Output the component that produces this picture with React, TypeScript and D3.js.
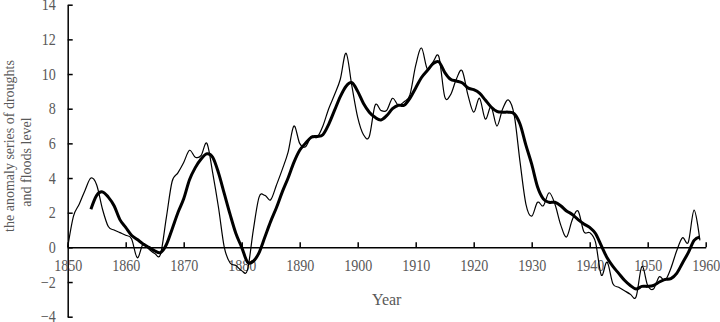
import { useRef, useEffect } from "react";
import * as d3 from "d3";

// annual anomaly series (thin line), 1850-1959
const annualYears = d3.range(1850, 1960);
const annualValues = [
  0, 1.8, 2.5, 3.3, 4.0, 3.6, 2.2, 1.2, 1.0, 0.85,
  0.7, 0.5, -0.6, 0.2, -0.1, -0.35, -0.4, 1.7, 3.8, 4.3,
  4.9, 5.6, 5.2, 5.3, 6.0, 4.3, 2.3, 0.0, -0.9, -1.05,
  -1.35, -1.3, 1.0, 2.9, 3.0, 2.75, 3.6, 4.5, 5.5, 7.0,
  6.0, 5.8, 6.4, 6.35, 7.0, 8.0, 8.8, 9.7, 11.2, 9.3,
  7.5, 6.5, 6.4, 8.2, 7.9, 7.9, 8.6, 8.2, 8.4, 8.8,
  10.5, 11.5, 10.3, 10.7, 11.0, 8.7, 8.8, 9.7, 10.2, 8.8,
  7.8, 8.6, 7.4, 8.1, 7.0, 8.0, 8.5, 7.6, 4.9, 2.5,
  1.8, 2.6, 2.4, 3.15, 2.5, 1.3, 0.6, 1.6, 2.1, 0.9,
  0.85, 0.3, -1.6, -0.85, -2.1, -2.3, -2.5, -2.7, -2.85, -1.1,
  -2.2, -2.4, -1.7, -1.9, -1.2, -0.2, 0.55, 0.3, 2.15, 0.4,
];

// smoothed series (thick line), 1854-1959
const smoothYears = d3.range(1854, 1960);
const smoothValues = [
  2.2, 3.0, 3.2, 2.9, 2.4, 1.6, 1.15, 0.7, 0.45, 0.2,
  0.0, -0.2, -0.3, 0.15, 1.05, 2.0, 2.8, 3.9, 4.6, 5.1,
  5.4, 5.2, 4.3, 3.1, 1.9, 0.8, 0.0, -0.85, -0.8, -0.3,
  0.6, 1.5, 2.3, 3.2, 4.0, 4.9, 5.6, 6.0, 6.35, 6.4,
  6.5, 7.1, 7.9, 8.7, 9.3, 9.5, 9.0, 8.3, 7.8, 7.5,
  7.35, 7.6, 8.0, 8.2, 8.2, 8.6, 9.2, 9.8, 10.2, 10.6,
  10.7, 10.1, 9.7, 9.6, 9.5, 9.2, 9.1, 8.9, 8.5, 8.1,
  7.85, 7.8, 7.8, 7.7, 7.1, 5.9, 4.8, 3.5, 2.8, 2.6,
  2.6, 2.4, 2.1, 1.9, 1.6, 1.35, 1.15, 0.8, 0.1, -0.6,
  -1.1, -1.5, -1.9, -2.2, -2.4, -2.25, -2.25, -2.2, -2.0, -1.85,
  -1.8, -1.5, -0.9, -0.3, 0.4, 0.6,
];

const xTicks = [1850, 1860, 1870, 1880, 1890, 1900, 1910, 1920, 1930, 1940, 1950, 1960];
const yTicks = [-4, -2, 0, 2, 4, 6, 8, 10, 12, 14];

function App() {
  const chartRef = useRef<SVGSVGElement | null>(null);

  useEffect(() => {
    document.body.style.margin = "0";
    const svg = d3.select(chartRef.current);
    svg.selectAll("*").remove();

    const width = 720;
    const height = 322;
    const font = "'Liberation Serif', 'Times New Roman', serif";
    const textColor = "#595959";

    const x = d3.scaleLinear().domain([1850, 1960]).range([67.7, 705.7]);
    const y = d3.scaleLinear().domain([-4, 14]).range([316.7, 4.7]);

    svg.attr("width", width).attr("height", height);

    // y axis, ticks pointing inward
    const yAxis = d3
      .axisLeft(y)
      .tickValues(yTicks)
      .tickSizeInner(-5)
      .tickSizeOuter(0)
      .tickPadding(13.5);
    const gy = svg.append("g").attr("transform", `translate(${x(1850)},0)`).call(yAxis);

    // x axis sits on zero, ticks pointing up
    const xAxis = d3
      .axisBottom(x)
      .tickValues(xTicks)
      .tickFormat(d3.format("d"))
      .tickSizeInner(-5)
      .tickSizeOuter(0)
      .tickPadding(12);
    const gx = svg.append("g").attr("transform", `translate(0,${y(0)})`).call(xAxis);

    [gx, gy].forEach((g) => {
      g.select(".domain").attr("stroke", "#000").attr("stroke-width", 1.5);
      g.selectAll(".tick line").attr("stroke", "#000").attr("stroke-width", 1.5);
      g.selectAll(".tick text")
        .attr("fill", textColor)
        .attr("transform", "scale(0.88,1)")
        .style("font-family", font)
        .style("font-size", "16px");
    });

    const line = d3
      .line<number>()
      .curve(d3.curveCardinal.tension(0));

    // thin annual line
    svg
      .append("path")
      .attr("fill", "none")
      .attr("stroke", "#000")
      .attr("stroke-width", 1.2)
      .attr(
        "d",
        line.x((d, i) => x(annualYears[i])).y((d) => y(d))(annualValues)
      );

    // thick smoothed line
    svg
      .append("path")
      .attr("fill", "none")
      .attr("stroke", "#000")
      .attr("stroke-width", 3)
      .attr("stroke-linejoin", "round")
      .attr(
        "d",
        line.x((d, i) => x(smoothYears[i])).y((d) => y(d))(smoothValues)
      );

    // axis titles
    svg
      .append("text")
      .attr("x", (x(1850) + x(1960)) / 2)
      .attr("y", 305)
      .attr("text-anchor", "middle")
      .attr("fill", textColor)
      .style("font-family", font)
      .style("font-size", "16px")
      .text("Year");

    const yTitle = svg
      .append("g")
      .attr("fill", textColor)
      .style("font-family", font)
      .style("font-size", "14px");
    yTitle
      .append("text")
      .attr("transform", "translate(14,146) rotate(-90)")
      .attr("text-anchor", "middle")
      .text("the anomaly series of droughts");
    yTitle
      .append("text")
      .attr("transform", "translate(31,162) rotate(-90)")
      .attr("text-anchor", "middle")
      .text("and floods level");
  }, []);

  return <svg ref={chartRef} width={720} height={322}></svg>;
}

export default App;
